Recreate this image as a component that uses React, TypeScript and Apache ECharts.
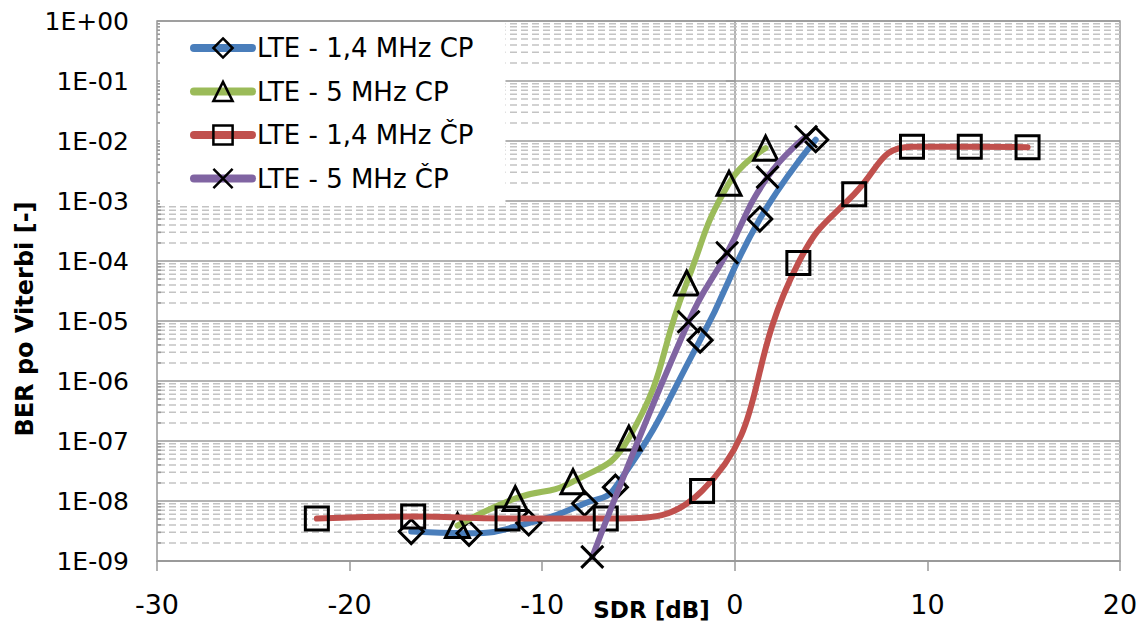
import React, { useEffect, useRef } from "react";
import * as echarts from "echarts";

const FONT = "DejaVu Sans";

const blueX = [-16.8, -13.8, -10.7, -7.8, -6.2, -1.8, 1.3, 4.2];
const blueY = [3.1e-9, 2.9e-9, 4.3e-9, 9.1e-9, 1.7e-8, 4.8e-6, 5.0e-4, 1.05e-2];

const greenX = [-14.4, -11.4, -8.4, -5.5, -2.5, -0.3, 1.6];
const greenY = [3.9e-9, 1.1e-8, 2.1e-8, 1.12e-7, 4.3e-5, 1.97e-3, 7.6e-3];

const redX = [-21.7, -16.7, -11.8, -6.7, -1.7, 3.3, 6.2, 9.2, 12.2, 15.2];
const redY = [5.1e-9, 5.5e-9, 5.1e-9, 5.1e-9, 1.47e-8, 9.3e-5, 1.3e-3, 8.0e-3, 8.0e-3, 7.9e-3];

const purpleX = [-7.4, -2.4, -0.4, 1.7, 3.7];
const purpleY = [1.17e-9, 9.7e-6, 1.37e-4, 2.5e-3, 1.18e-2];

const seriesNames = ["LTE - 1,4 MHz CP", "LTE - 5 MHz CP", "LTE - 1,4 MHz ČP", "LTE - 5 MHz ČP"];
const seriesColors = ["#4a7ebb", "#9bbb59", "#c0504d", "#8064a2"];
const crossPath = "path://M0,0L10,10M0,10L10,0";
const seriesSymbols = ["diamond", "triangle", "rect", crossPath];
const seriesSymbolSizes = [24, 24, 23, 22];

const decadeExps = [-9, -8, -7, -6, -5, -4, -3, -2, -1];
const minorMultipliers = [2, 3, 4, 5, 6, 7, 8, 9];

const X_MIN = -30;
const X_MAX = 20;

function zip(xs: number[], ys: number[]) {
  return xs.map((x, i) => [x, ys[i]]);
}

export default function App() {
  const ref = useRef<HTMLDivElement>(null);
  useEffect(() => {
    if (!ref.current) return;
    const chart = echarts.init(ref.current, null, { renderer: "svg" });

    const minorVals: number[] = [];
    decadeExps.forEach((e) => minorMultipliers.forEach((m) => minorVals.push(m * Math.pow(10, e))));

    const dataSets = [zip(blueX, blueY), zip(greenX, greenY), zip(redX, redY), zip(purpleX, purpleY)];

    const series: any[] = [
      {
        name: "_grid",
        type: "custom",
        silent: true,
        z: 1,
        clip: false,
        data: minorVals.map((v) => [X_MIN, v]),
        encode: { x: 0, y: 1 },
        renderItem: (params: any, api: any) => {
          const v = api.value(1);
          const p1 = api.coord([X_MIN, v]);
          const p2 = api.coord([X_MAX, v]);
          return {
            type: "group",
            children: [
              {
                type: "line",
                shape: { x1: p1[0] + 1, y1: p1[1], x2: p2[0], y2: p2[1] },
                style: { stroke: "#c3c3c3", lineWidth: 1.5, lineDash: [7, 4] },
              },
              {
                type: "line",
                shape: { x1: p1[0], y1: p1[1], x2: p1[0] + 4, y2: p1[1] },
                style: { stroke: "#999", lineWidth: 1.5 },
              },
            ],
          };
        },
      },
      ...dataSets.map((d, i) => ({
        name: seriesNames[i],
        type: "line",
        data: d,
        smooth: 0.5,
        symbol: seriesSymbols[i],
        symbolSize: seriesSymbolSizes[i],
        z: 3 + i,
        lineStyle: { color: seriesColors[i], width: 6, cap: "round", join: "round" },
        itemStyle: { color: "transparent", borderColor: "#000", borderWidth: 3 },
        emphasis: { disabled: true },
      })),
    ];

    chart.setOption({
      animation: false,
      backgroundColor: "#fff",
      textStyle: { fontFamily: FONT },
      grid: {
        left: 157,
        right: 27,
        top: 21,
        bottom: 71,
        show: true,
        borderColor: "#999",
        borderWidth: 1.5,
        backgroundColor: "transparent",
        containLabel: false,
        outerBoundsMode: "none",
      },
      legend: {
        data: seriesNames,
        orient: "vertical",
        left: 160,
        top: 23,
        z: 10,
        itemWidth: 58,
        itemHeight: 24,
        itemGap: 17.5,
        padding: [12, 32, 14, 30],
        backgroundColor: "#fff",
        textStyle: { fontSize: 26, color: "#000", fontFamily: FONT },
        itemStyle: { borderWidth: 2.5 },
        lineStyle: { width: 8, cap: "round" },
      },
      xAxis: {
        type: "value",
        min: X_MIN,
        max: X_MAX,
        interval: 10,
        name: "SDR [dB]",
        nameLocation: "middle",
        nameGap: 37,
        nameMoveOverlap: false,
        nameTextStyle: { fontWeight: "bold", fontSize: 23, color: "#000", fontFamily: FONT, padding: [0, 0, 0, 26] },
        axisLine: { onZero: false, lineStyle: { color: "#999", width: 1.5 } },
        axisTick: { show: true, length: 10, lineStyle: { color: "#999", width: 1.5 } },
        axisLabel: { fontSize: 27, color: "#000", margin: 30, fontFamily: FONT },
        splitLine: { show: false },
      },
      yAxis: {
        type: "log",
        logBase: 10,
        min: 1e-9,
        max: 1,
        splitNumber: 9,
        name: "BER po Viterbi [-]",
        nameLocation: "middle",
        nameGap: 120,
        nameMoveOverlap: false,
        nameTextStyle: { fontWeight: "bold", fontSize: 24, color: "#000", fontFamily: FONT, padding: [0, 56, 0, 0] },
        axisLine: { show: true, lineStyle: { color: "#999", width: 1.5 } },
        axisTick: { show: true, length: 9, lineStyle: { color: "#999", width: 1.5 } },
        axisLabel: {
          fontSize: 25,
          color: "#000",
          margin: 28,
          fontFamily: FONT,
          formatter: (v: number) => {
            const e = Math.round(Math.log10(v));
            return "1E" + (e < 0 ? "-" : "+") + String(Math.abs(e)).padStart(2, "0");
          },
        },
        splitLine: { show: true, lineStyle: { color: "#999", width: 1.5 } },
        minorTick: { show: false },
        minorSplitLine: { show: false },
      },
      series,
    });

    return () => chart.dispose();
  }, []);

  return (
    <div
      ref={ref}
      style={{ position: "fixed", left: 0, top: 0, width: 1147, height: 632, background: "#fff" }}
    />
  );
}
